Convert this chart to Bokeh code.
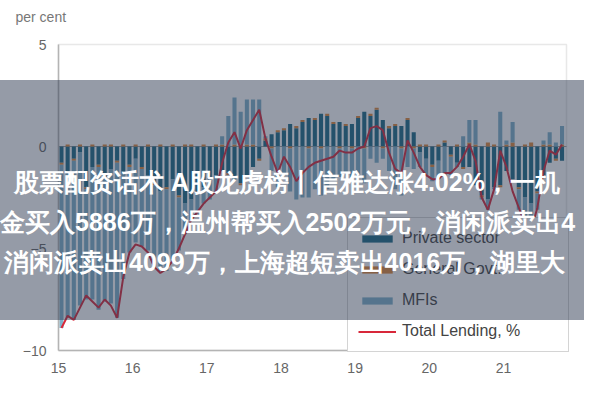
import pandas as pd
import bokeh.models as bm
from bokeh.plotting import figure
from bokeh.models import (ColumnDataSource, Legend, LegendItem, Label, BoxAnnotation,
                          FixedTicker, LinearAxis)
from bokeh.embed import file_html
from bokeh.resources import INLINE

# ---------------- data (monthly, Jan 2015 - Oct 2021), per cent ----------------
months = pd.date_range("2015-01-01", periods=82, freq="MS")

private_sector = [
    -0.8, -1.2, -0.6, -0.3, -2.0, -1.0, -0.9, -1.5, -1.1, -0.7, -1.3, -0.9,
    -0.6, -1.0, -1.4, -1.8, -2.2, -2.0, -1.6, -2.4, -2.8, -2.6, -2.2, -2.0,
    -1.5, -1.4, -1.2, -1.3, -1.6, -1.8, -1.4, -1.0, -0.6, 0.3, 0.6, 0.7,
    0.8, 1.1, 0.9, 1.2, 1.4, 1.3, 1.6, 1.5, 1.1, 1.2, 1.0, 1.1,
    1.4, 1.7, 1.5, 1.8, 1.3, 0.9, 1.0, 1.0, 1.3, 0.7, -0.3, -0.6,
    -0.9, -0.7, 0.2, -0.4, -0.8, -1.0, -1.0, -1.9, -2.4, -2.6, -2.0, -1.9,
    -1.2, -1.6, -2.0, -2.5, -2.8, -2.2, -1.4, -0.8, -0.6, -0.7,
]
general_govt = [
    -0.1, 0.1, -0.1, 0.1, -0.1, 0.1, -0.1, 0.1, 0.1, -0.1, 0.1, -0.1,
    0.1, -0.1, 0.1, -0.1, 0.1, -0.1, 0.1, -0.1, 0.1, 0.1, -0.1, 0.1,
    -0.1, 0.1, 0.1, -0.1, 0.1, -0.1, 0.1, 0.1, -0.1, 0.1, -0.1, 0.1,
    0.1, -0.1, 0.1, 0.1, -0.1, 0.1, -0.1, 0.1, 0.1, -0.1, 0.1, -0.1,
    0.1, -0.1, 0.1, 0.1, -0.1, 0.1, 0.1, -0.1, 0.1, -0.1, 0.1, 0.1,
    -0.1, 0.1, 0.1, -0.1, 0.1, -0.1, 0.2, 0.1, -0.1, 0.2, 0.1, -0.1,
    0.1, 0.2, -0.1, 0.1, 0.2, -0.1, 0.1, 0.1, -0.1, 0.1,
]
mfis = [
    -8.0, -7.2, -7.8, -7.5, -5.4, -6.5, -7.0, -6.1, -6.6, -7.6, -5.2, -4.2,
    -4.1, -3.8, -3.7, -4.0, -3.9, -4.0, -3.9, -2.6, -1.5, -1.0, -1.0, -0.8,
    -1.0, -0.8, 0.4, 1.5, 2.3, 1.7, 2.2, 2.2, 2.3, 0.1, -1.1, -2.0,
    -1.3, -2.1, -2.6, -2.5, -2.4, -2.1, -2.3, -2.1, -1.6, -1.4, -1.3, -1.4,
    -1.5, -1.7, -0.6, -0.8, -0.5, -1.2, -2.1, -2.3, -1.0, -1.0, -0.7, -0.8,
    -0.7, -0.9, -1.5, -0.9, -0.2, 0.5, 1.1, 1.2, -0.1, -0.5, -0.1, 1.7,
    0.2, 1.0, -1.0, -1.3, -1.3, -0.8, 0.2, 0.6, 0.2, 0.9,
]
total_lending = [
    -8.9, -8.3, -8.5, -7.9, -7.3, -7.6, -7.9, -7.5, -7.8, -8.4, -6.4, -5.2,
    -4.8, -4.9, -5.2, -5.9, -6.2, -6.0, -5.6, -5.0, -4.3, -3.6, -3.2, -2.8,
    -2.5, -2.2, -0.8, 0.2, 0.7, -0.1, 0.8, 1.3, 1.8, 0.4, -0.5, -1.3,
    -0.5, -1.0, -1.7, -1.3, -1.0, -0.8, -0.7, -0.6, -0.5, -0.2, -0.3, -0.3,
    -0.1, 0.0, 0.9, 1.0, 0.8, -0.3, -1.1, -1.3, 0.3, -0.3, -1.0, -1.4,
    -1.6, -1.6, -1.3, -1.3, -1.0, -0.5, 0.1, -0.7, -2.5, -3.1, -2.1, -0.2,
    -1.0, -2.2, -3.0, -3.8, -4.1, -3.0, -1.2, -0.2, -0.4, 0.1,
]

year_ticks = [2015, 2016, 2017, 2018, 2019, 2020, 2021]
year_labels = ["15", "16", "17", "18", "19", "20", "21"]
y_ticks = [-10, -5, 0, 5]

series_names = ["Private sector", "General Govt.", "MFIs"]
series_colors = ["#1d6a86", "#e0883a", "#7eb1ca"]
line_color = "#d8283a"

headline = [
    "股票配资话术 A股龙虎榜丨信雅达涨4.02%，一机",
    "金买入5886万，温州帮买入2502万元，消闲派卖出4",
    "消闲派卖出4099万，上海超短卖出4016万，湖里大",
]

# plotting area (data units) and the canvas around it
X0, X1 = 2015.0, 2021.85
Y0, Y1 = -10.0, 5.0
W, H = 584, 384
FL, FR, FT, FB = 58, 566, 44, 350     # pixel edges of the chart box
kx = (X1 - X0) / (FR - FL)
ky = (Y1 - Y0) / (FB - FT)

# ---------------- derived positions ----------------
x = [m.year + (m.month - 1) / 12 + 0.04 for m in months]
pos = [0.0] * len(x)
neg = [0.0] * len(x)
stacks = []
for vals in (private_sector, general_govt, mfis):
    top, bottom = [], []
    for i, v in enumerate(vals):
        if v >= 0:
            bottom.append(pos[i]); top.append(pos[i] + v); pos[i] += v
        else:
            top.append(neg[i]); bottom.append(neg[i] + v); neg[i] += v
    stacks.append((top, bottom))

FONT = "Liberation Sans"
p = figure(width=W, height=H,
           x_range=(X0 - FL * kx, X1 + (W - FR) * kx),
           y_range=(Y0 - (H - FB) * ky, Y1 + FT * ky),
           x_axis_type=None, y_axis_type=None,
           output_backend="svg", toolbar_location=None,
           min_border=0)
p.background_fill_color = "white"
p.border_fill_color = "white"
p.outline_line_color = None
p.xgrid.visible = False
p.ygrid.visible = False

# chart box
p.add_layout(BoxAnnotation(left=X0, right=X1, bottom=Y0, top=Y1, fill_color=None,
                           line_color="#b4b4b4", line_width=1.5, level="underlay"))
# zero line
p.segment(x0=[X0], x1=[X1], y0=[0], y1=[0], line_color="#a0a0a0", line_width=1.2)

items = []
for (top, bottom), name, col in zip(stacks, series_names, series_colors):
    src = ColumnDataSource(dict(x=x, top=top, bottom=bottom))
    r = p.vbar(x="x", top="top", bottom="bottom", width=0.055, source=src,
               fill_color=col, line_color=None)
    items.append(LegendItem(label=name, renderers=[r]))

lsrc = ColumnDataSource(dict(x=x, y=total_lending))
rl = p.line(x="x", y="y", source=lsrc, line_color=line_color, line_width=2)
items.append(LegendItem(label="Total Lending, %", renderers=[rl]))

xaxis = LinearAxis(fixed_location=Y0, bounds=(X0, X1), ticker=FixedTicker(ticks=year_ticks))
xaxis.major_label_overrides = {t: l for t, l in zip(year_ticks, year_labels)}
yaxis = LinearAxis(fixed_location=X0, bounds=(Y0, Y1), ticker=FixedTicker(ticks=y_ticks))
for ax in (xaxis, yaxis):
    ax.axis_line_color = "#b4b4b4"
    ax.axis_line_width = 1.5
    ax.major_tick_line_color = None
    ax.minor_tick_line_color = None
    ax.major_tick_out = 0
    ax.major_tick_in = 0
    ax.major_label_text_font = FONT
    ax.major_label_text_font_size = "14px"
    ax.major_label_text_color = "#666666"
    ax.major_label_standoff = 12
p.add_layout(xaxis, "below")
p.add_layout(yaxis, "left")

legend = Legend(items=items, location=(347, H - 352), margin=0, padding=10,
                spacing=11, glyph_width=38, glyph_height=9, label_height=20,
                label_standoff=6, label_width=156, label_text_font=FONT,
                label_text_font_size="16px", label_text_color="#444444",
                border_line_color="#aaaaaa", border_line_width=1.5,
                background_fill_color="white", background_fill_alpha=1.0)
p.add_layout(legend)

p.add_layout(Label(x=15, y=H - 16, x_units="screen", y_units="screen", text="per cent",
                   text_font=FONT, text_font_size="14px", text_color="#777777",
                   text_baseline="middle"))

# ---------------- headline banner (drawn above the legend) ----------------
blank = p.scatter(x=[], y=[], fill_alpha=0, line_alpha=0)

banner = Legend(items=[LegendItem(label=" ", renderers=[blank])],
                location=(0, H - 320), margin=0, padding=0, spacing=0,
                glyph_width=1, glyph_height=1, label_standoff=0,
                label_width=W, label_height=240, label_text_font_size="1px",
                border_line_color=None, background_fill_color="#2c3850",
                background_fill_alpha=0.5)
p.add_layout(banner)

LabelCls = getattr(bm, "HTMLLabel", Label)
for txt, lx, ly in zip(headline, [14, 0, 4], [182, 222, 262]):
    p.add_layout(LabelCls(x=lx, y=H - ly, x_units="screen", y_units="screen", text=txt,
                          text_font="Noto Sans CJK SC", text_font_style="bold",
                          text_font_size="25px", text_color="white",
                          text_baseline="middle"))

open("out.html", "w").write(file_html(p, INLINE))
